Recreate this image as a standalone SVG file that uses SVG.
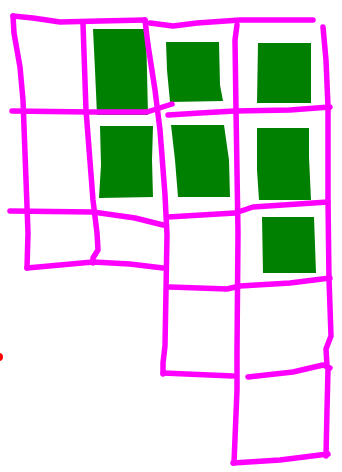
<svg xmlns="http://www.w3.org/2000/svg" width="342" height="472" viewBox="0 0 342 472">
<style>
.m{fill:none;stroke:#FF00FF;stroke-width:5.5;stroke-linecap:round;stroke-linejoin:round}
.g{fill:#008000}
</style>
<rect width="342" height="472" fill="#ffffff"/>
<g id="fills">
<polygon class="g" points="93,29 146,29 148,115 97,115 95,70"/>
<polygon class="g" points="100,126 153,126 152,160 153,197 99,198 101,165"/>
<polygon class="g" points="166,42 219,42 220,85 223,101 170,102 167,70"/>
<polygon class="g" points="258,43 311,43 311,103 257,103"/>
<polygon class="g" points="171,125 224,125 229,160 230,197 178,197 175,160"/>
<polygon class="g" points="257,128 309,128 309,157 311,200 259,200 257,170"/>
<polygon class="g" points="262,217 314,217 316,273 263,273"/>
</g>
<g id="grid">
<path class="m" d="M13,16 L33,18 L60,22 L100,21 L145,20"/>
<path class="m" d="M150,23 L173,26 L197,23 L240,20 L313,20"/>
<path class="m" d="M13,16 L14,33 L20,67 L23,100 L28,233 L27,268"/>
<path class="m" d="M27,268 L60,265 L93,262 L130,264 L163,268"/>
<path class="m" d="M83,24 L86,110 L93,200 L97,233 L98,250 L93,258 L93,263"/>
<path class="m" d="M145,20 L148,45 L155,90 L160,130 L165,195 L167,235 L165,346 L163,363 L163,374"/>
<path class="m" d="M237,25 L235,40 L236,110 L238,233 L237,350 L237,390 L234,463"/>
<path class="m" d="M323,27 L326,60 L328,107 L328,200 L329,279 L331,336 L326,349 L327,366 L328,369 L327,410 L326,456"/>
<path class="m" d="M12,111 L90,112 L147,112 L172,104"/>
<path class="m" d="M168,115 L200,113 L235,111 L290,110 L330,107"/>
<path class="m" d="M10,211 L93,212 L135,218 L163,225"/>
<path class="m" d="M168,217 L235,213 L253,207 L328,202"/>
<path class="m" d="M170,287 L227,289 L240,286 L290,283 L330,278"/>
<path class="m" d="M163,373 L233,376"/>
<path class="m" d="M248,377 L293,372 L323,365 L330,368"/>
<path class="m" d="M233,463 L280,460 L328,454"/>
</g>
<circle id="dot" cx="-1" cy="357" r="4" fill="#FF0000"/>
</svg>
